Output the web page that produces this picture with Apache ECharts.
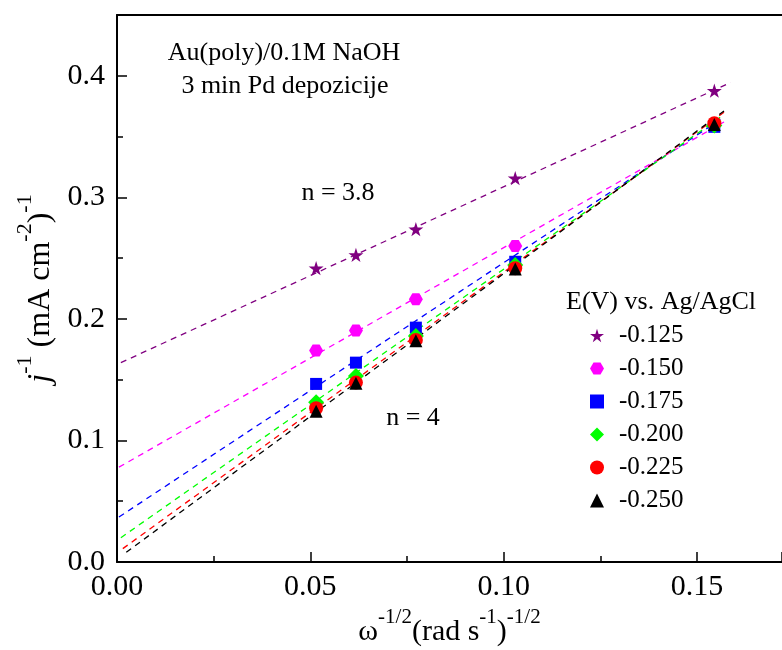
<!DOCTYPE html>
<html>
<head>
<meta charset="utf-8">
<style>
  html, body { margin: 0; padding: 0; background: #fff; }
  #main { width: 782px; height: 650px; }
</style>
<script src="https://cdn.jsdelivr.net/npm/echarts@6/dist/echarts.min.js"></script>
</head>
<body>
<div id="main"></div>
<script>
// omega^-1/2 values (rotation rates)
var xVals = [0.0515, 0.0618, 0.0773, 0.1030, 0.1545];

// potentials (legend names)
var potentials = ['-0.125', '-0.150', '-0.175', '-0.200', '-0.225', '-0.250'];

// j^-1 values per potential
var y125 = [0.2417, 0.2527, 0.2738, 0.3158, 0.3877];
var y150 = [0.1740, 0.1904, 0.2162, 0.2600, 0.3597];
var y175 = [0.1465, 0.1640, 0.1928, 0.2470, 0.3580];
var y200 = [0.1315, 0.1530, 0.1860, 0.2444, 0.3590];
var y225 = [0.1265, 0.1476, 0.1827, 0.2417, 0.3610];
var y250 = [0.1240, 0.1470, 0.1820, 0.2410, 0.3600];

// fitted lines: start and end points
var fitStart = [[0.001, 0.164], [0.0005, 0.078], [0.0005, 0.037], [0.001, 0.020], [0.0015, 0.011], [0.0024, 0.008]];
var fitEnd = [[0.1587, 0.3945], [0.157, 0.362], [0.157, 0.366], [0.157, 0.368], [0.157, 0.370], [0.157, 0.371]];

var colors = ['#800080', '#FF00FF', '#0000FF', '#00FF00', '#FF0000', '#000000'];
var symbols = [
  'path://M50,0 L61,35 L98,35 L68,57 L79,91 L50,70 L21,91 L32,57 L2,35 L39,35 Z',
  'path://M25,0 L75,0 L100,43 L75,86 L25,86 L0,43 Z',
  'rect', 'diamond', 'circle', 'triangle'
];
var sizes = [15, 14, 12, 16, 14, 13];
var allY = [y125, y150, y175, y200, y225, y250];

var FONT = '"Liberation Serif", "Times New Roman", serif';

var chart = echarts.init(document.getElementById('main'));

var series = [];
// dashed fit lines first (underneath)
allY.forEach(function (ys, i) {
  series.push({
    type: 'line',
    name: 'fit' + i,
    data: [fitStart[i], fitEnd[i]],
    showSymbol: false,
    silent: true,
    z: 1,
    lineStyle: { color: colors[i], width: 1.3, type: [6, 5] }
  });
});
allY.forEach(function (ys, i) {
  series.push({
    type: 'scatter',
    name: potentials[i],
    data: xVals.map(function (x, k) { return [x, ys[k]]; }),
    symbol: symbols[i],
    symbolSize: sizes[i],
    symbolKeepAspect: true,
    itemStyle: { color: colors[i], opacity: 1 },
    z: 2 + i
  });
});

chart.setOption({
  animation: false,
  backgroundColor: '#fff',
  textStyle: { fontFamily: FONT },
  grid: { left: 117, right: 0, top: 15, bottom: 88, outerBoundsMode: 'none', containLabel: false },
  legend: {
    data: potentials,
    orient: 'vertical',
    left: 585,
    top: 318,
    itemWidth: 14,
    itemHeight: 14,
    itemGap: 8,
    textStyle: { fontFamily: FONT, fontSize: 25, color: '#000', padding: [0, 0, 0, 10] }
  },
  xAxis: [{
    type: 'value',
    min: 0,
    max: 0.172,
    interval: 0.05,
    axisLine: { show: true, onZero: false, lineStyle: { color: '#000', width: 2 } },
    axisTick: { inside: true, length: 10, lineStyle: { color: '#000', width: 1.5 } },
    minorTick: { show: true, splitNumber: 2, length: 6, lineStyle: { color: '#000', width: 1.5 } },
    splitLine: { show: false },
    axisLabel: {
      color: '#000', fontSize: 30, fontFamily: FONT, margin: 10,
      showMaxLabel: false,
      formatter: function (v) { return v.toFixed(2); }
    },
    name: '{w|ω}{sup|-1/2}{t|(rad s}{sup|-1}{t|)}{sup|-1/2}',
    nameLocation: 'middle',
    nameGap: 45,
    nameTextStyle: {
      rich: {
        w: { fontSize: 30, fontFamily: FONT, color: '#000', lineHeight: 40, verticalAlign: 'bottom' },
        t: { fontSize: 30, fontFamily: FONT, color: '#000', lineHeight: 40, verticalAlign: 'bottom' },
        sup: { fontSize: 21, fontFamily: FONT, color: '#000', lineHeight: 40, verticalAlign: 'top' }
      }
    }
  }, {
    type: 'value',
    position: 'top',
    min: 0,
    max: 0.172,
    axisLine: { show: true, onZero: false, lineStyle: { color: '#000', width: 2 } },
    axisTick: { show: false },
    axisLabel: { show: false },
    splitLine: { show: false }
  }],
  yAxis: {
    type: 'value',
    min: 0,
    max: 0.45,
    interval: 0.1,
    axisLine: { show: true, onZero: false, lineStyle: { color: '#000', width: 2 } },
    axisTick: { inside: true, length: 10, lineStyle: { color: '#000', width: 1.5 } },
    minorTick: { show: true, splitNumber: 2, length: 6, lineStyle: { color: '#000', width: 1.5 } },
    splitLine: { show: false },
    axisLabel: {
      color: '#000', fontSize: 30, fontFamily: FONT, margin: 12,
      showMaxLabel: false,
      formatter: function (v) { return v.toFixed(1); }
    },
    name: '{j|j}{sup|-1}{t| (mA cm}{sup|-2}{t|)}{sup|-1}',
    nameLocation: 'middle',
    nameGap: 56,
    nameTextStyle: {
      rich: {
        j: { fontSize: 32, fontFamily: FONT, fontStyle: 'italic', color: '#000', lineHeight: 42, verticalAlign: 'bottom' },
        t: { fontSize: 32, fontFamily: FONT, color: '#000', lineHeight: 42, verticalAlign: 'bottom' },
        sup: { fontSize: 22, fontFamily: FONT, color: '#000', lineHeight: 42, verticalAlign: 'top' }
      }
    }
  },
  graphic: [
    {
      type: 'text', x: 284, y: 53,
      style: { text: 'Au(poly)/0.1M NaOH', font: '26px ' + FONT, fill: '#000', align: 'center', verticalAlign: 'middle' }
    },
    {
      type: 'text', x: 285, y: 86,
      style: { text: '3 min Pd depozicije', font: '26px ' + FONT, fill: '#000', align: 'center', verticalAlign: 'middle' }
    },
    {
      type: 'text', x: 338, y: 193,
      style: { text: 'n = 3.8', font: '26px ' + FONT, fill: '#000', align: 'center', verticalAlign: 'middle' }
    },
    {
      type: 'text', x: 413, y: 418,
      style: { text: 'n = 4', font: '26px ' + FONT, fill: '#000', align: 'center', verticalAlign: 'middle' }
    },
    {
      type: 'text', x: 661, y: 302,
      style: { text: 'E(V) vs. Ag/AgCl', font: '26px ' + FONT, fill: '#000', align: 'center', verticalAlign: 'middle' }
    }
  ],
  series: series
});
</script>
</body>
</html>
